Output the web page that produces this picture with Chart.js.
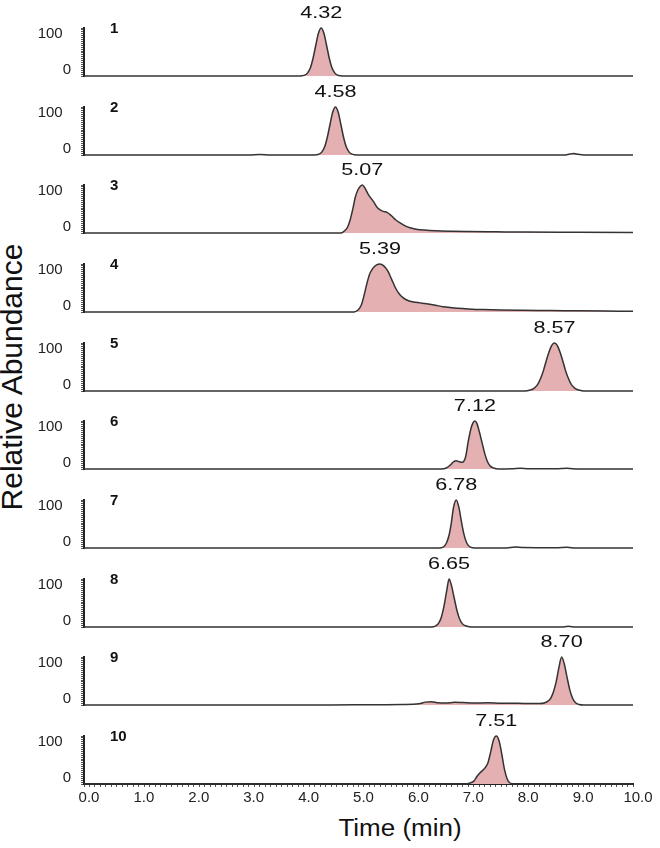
<!DOCTYPE html>
<html>
<head>
<meta charset="utf-8">
<script src="https://cdn.jsdelivr.net/npm/chart.js@4.4.1/dist/chart.umd.min.js"></script>
<style>
  body { margin: 0; background: #fff; }
  #wrap { position: relative; width: 660px; height: 848px; overflow: hidden; font-family: Arial, "Liberation Sans", sans-serif; color: #111; }
  #wrap canvas { position: absolute; left: 0; }
  #ylab { position: absolute; left: 12px; top: 377px; transform: translate(-50%, -50%) rotate(-90deg); font-size: 30px; line-height: 30px; white-space: nowrap; }
  #xlab { position: absolute; left: 400px; top: 828px; transform: translate(-50%, -50%) scaleX(1.13); font-size: 23px; line-height: 23px; white-space: nowrap; }
</style>
</head>
<body>
<div id="wrap">
  <div id="ylab">Relative Abundance</div>
  <div id="xlab">Time (min)</div>
</div>
<script>
// panel names and retention time labels
const panelNames = ["1", "2", "3", "4", "5", "6", "7", "8", "9", "10"];
const peakLabels = ["4.32", "4.58", "5.07", "5.39", "8.57", "7.12", "6.78", "6.65", "8.70", "7.51"];

// traces: [time (min), relative abundance]
const trace1 = [[0,0],[3.9,0],[3.97,0.4],[4.02,1.7],[4.07,6],[4.12,16],[4.17,36],[4.22,63],[4.27,89],[4.32,100],[4.37,89],[4.42,63],[4.47,36],[4.52,16],[4.57,6],[4.62,1.7],[4.67,0.4],[4.75,0],[10,0]];
const trace2 = [[0,0],[3.0,0],[3.2,1],[3.4,0],[4.15,0],[4.23,0.4],[4.28,1.7],[4.33,6],[4.38,16],[4.43,36],[4.48,63],[4.53,89],[4.58,100],[4.63,89],[4.68,63],[4.73,36],[4.78,16],[4.83,6],[4.88,1.7],[4.93,0.4],[5.0,0],[8.75,0],[8.85,2],[8.92,3],[9.0,1.5],[9.1,0],[10,0]];
const trace3 = [[0,0],[4.68,0],[4.75,5],[4.8,12],[4.85,28],[4.9,52],[4.94,74],[4.99,90],[5.03,97],[5.07,100],[5.12,93],[5.18,80],[5.27,66],[5.35,52],[5.45,45],[5.52,43],[5.6,36],[5.68,27],[5.76,21],[5.85,15],[5.94,11],[6.05,8],[6.2,6],[6.4,4.5],[6.7,3.5],[7.0,3],[7.5,2.5],[8.0,2],[9.0,1.5],[10,1]];
const trace4 = [[0,0],[4.92,0],[4.99,4],[5.05,14],[5.1,34],[5.15,58],[5.2,78],[5.26,91],[5.33,98],[5.39,100],[5.46,96],[5.53,86],[5.6,69],[5.67,51],[5.74,38],[5.81,30],[5.9,24],[6.0,21],[6.12,19],[6.24,17],[6.4,14],[6.54,11],[6.7,9],[6.8,8],[7.0,6.5],[7.27,5],[7.6,4],[8.0,3.5],[8.5,3],[9.0,2.5],[9.5,2],[10,1.5]];
const trace5 = [[0,0],[8.0,0],[8.07,0.5],[8.17,3.6],[8.22,7.8],[8.27,15],[8.32,27],[8.37,43],[8.42,63],[8.47,81],[8.52,95],[8.57,100],[8.62,95],[8.67,81],[8.72,63],[8.77,43],[8.82,27],[8.87,15],[8.92,7.8],[8.97,3.6],[9.07,0.5],[9.15,0],[10,0]];
const trace6 = [[0,0],[6.5,0],[6.6,2],[6.67,8],[6.73,15],[6.78,17],[6.84,15],[6.89,14],[6.95,25],[7.0,58],[7.05,85],[7.09,97],[7.12,100],[7.16,94],[7.2,78],[7.25,55],[7.3,32],[7.35,15],[7.4,6],[7.46,2],[7.55,0],[7.8,0.5],[7.95,1.5],[8.1,0.5],[8.6,0.5],[8.8,1.5],[9.0,0],[10,0]];
const trace7 = [[0,0],[6.45,0],[6.5,0.5],[6.55,2.7],[6.6,10],[6.65,27],[6.69,52],[6.73,84],[6.78,100],[6.83,84],[6.87,58],[6.92,29],[6.97,11],[7.02,3],[7.08,0.5],[7.15,0],[7.7,0],[7.85,2],[8.0,1],[8.6,0.5],[8.8,1.5],[8.95,0],[10,0]];
const trace8 = [[0,0],[6.3,0],[6.36,0.5],[6.41,2.5],[6.46,8],[6.51,21],[6.56,45],[6.61,78],[6.65,100],[6.69,88],[6.74,62],[6.79,36],[6.84,17],[6.89,7],[6.95,2.5],[7.02,0.5],[7.1,0],[8.7,0],[8.82,1.5],[8.95,0],[10,0]];
const trace9 = [[0,0],[4.5,0],[5.2,0.5],[5.8,1],[6.1,2.5],[6.22,6],[6.33,7],[6.45,4.5],[6.6,4],[6.75,5.5],[6.9,5],[7.1,4],[7.35,4.5],[7.6,3.5],[7.9,3.5],[8.15,3],[8.3,3],[8.38,4],[8.45,8],[8.5,14],[8.55,27],[8.6,48],[8.65,78],[8.7,100],[8.75,85],[8.8,57],[8.85,31],[8.9,14],[8.95,5],[9.02,1],[9.1,0],[10,0]];
const trace10 = [[0,0],[6.95,0],[7.03,2],[7.1,6],[7.16,16],[7.21,23],[7.3,33],[7.36,45],[7.41,68],[7.46,92],[7.51,100],[7.56,90],[7.61,62],[7.66,30],[7.71,10],[7.76,2],[7.82,0],[10,0]];

const traces = [trace1, trace2, trace3, trace4, trace5, trace6, trace7, trace8, trace9, trace10];

const FONT = "Arial, 'Liberation Sans', sans-serif";
const PITCH = 78.67; // distance between panels
const wrap = document.getElementById("wrap");

// draws the retention time above the peak and the panel number
const panelText = {
  id: "panelText",
  afterDatasetsDraw(chart, args, opts) {
    const ctx = chart.ctx;
    const area = chart.chartArea;
    const pts = chart.data.datasets[0].data;
    let top = pts[0];
    pts.forEach((p) => { if (p[1] > top[1]) top = p; });
    const px = chart.scales.x.getPixelForValue(top[0]);
    ctx.save();
    ctx.fillStyle = "#111";
    ctx.textBaseline = "middle";
    ctx.textAlign = "center";
    ctx.font = "16px " + FONT;
    ctx.translate(px, area.top - 14);
    ctx.scale(1.35, 1); // the labels are drawn wide in the figure
    ctx.fillText(opts.peak, 0, 0);
    ctx.restore();

    ctx.save();
    ctx.fillStyle = "#111";
    ctx.textBaseline = "middle";
    ctx.font = "bold 15px " + FONT;
    ctx.textAlign = "left";
    ctx.fillText(opts.name, area.left + 26, area.top + 1);
    ctx.restore();
  },
};

traces.forEach((trace, i) => {
  const isLast = i === traces.length - 1;
  const topPx = Math.round(i * PITCH);
  const h = isLast ? 848 - topPx : 79;

  const cv = document.createElement("canvas");
  cv.width = 660;
  cv.height = h;
  cv.style.top = topPx + "px";
  wrap.appendChild(cv);

  new Chart(cv.getContext("2d"), {
    type: "line",
    data: {
      datasets: [
        {
          data: trace,
          borderColor: "#333",
          borderWidth: 1.5,
          backgroundColor: "#e4b0b2",
          fill: "origin",
          pointRadius: 0,
          cubicInterpolationMode: "monotone",
          clip: false,
        },
      ],
    },
    options: {
      responsive: false,
      animation: false,
      layout: { padding: { top: 28, bottom: isLast ? 0 : 3, left: 0, right: 27 } },
      scales: {
        x: {
          type: "linear",
          min: 0,
          max: 10,
          display: isLast,
          afterFit(scale) {
            if (isLast) scale.height = 64;
          },
          border: { display: true, width: 2, color: "#222" },
          grid: { drawOnChartArea: false, tickLength: 3, color: "#555" },
          ticks: {
            stepSize: 0.1,
            autoSkip: false,
            maxTicksLimit: 200,
            maxRotation: 0,
            labelOffset: 5,
            padding: 2,
            color: "#222",
            font: { size: 15, family: FONT },
            callback: (v) => (Math.abs(v - Math.round(v)) < 1e-6 ? v.toFixed(1) : ""),
          },
        },
        y: {
          min: 0,
          max: 100,
          afterFit(scale) {
            scale.width = 84;
            scale.paddingTop = 0;
            scale.paddingBottom = 0;
          },
          border: { display: true, width: 2, color: "#222" },
          grid: { drawOnChartArea: false, tickLength: 3, color: "#555" },
          ticks: {
            stepSize: 4,
            autoSkip: false,
            padding: 10,
            color: "#222",
            font: { size: 15, family: FONT, lineHeight: 0.8 },
            callback: (v) => {
              if (v === 0) return ["0", ""];
              if (v === 100) return ["", "100  "];
              return "";
            },
          },
        },
      },
      plugins: {
        legend: { display: false },
        tooltip: { enabled: false },
        panelText: { name: panelNames[i], peak: peakLabels[i] },
      },
    },
    plugins: [panelText],
  });
});
</script>
</body>
</html>
